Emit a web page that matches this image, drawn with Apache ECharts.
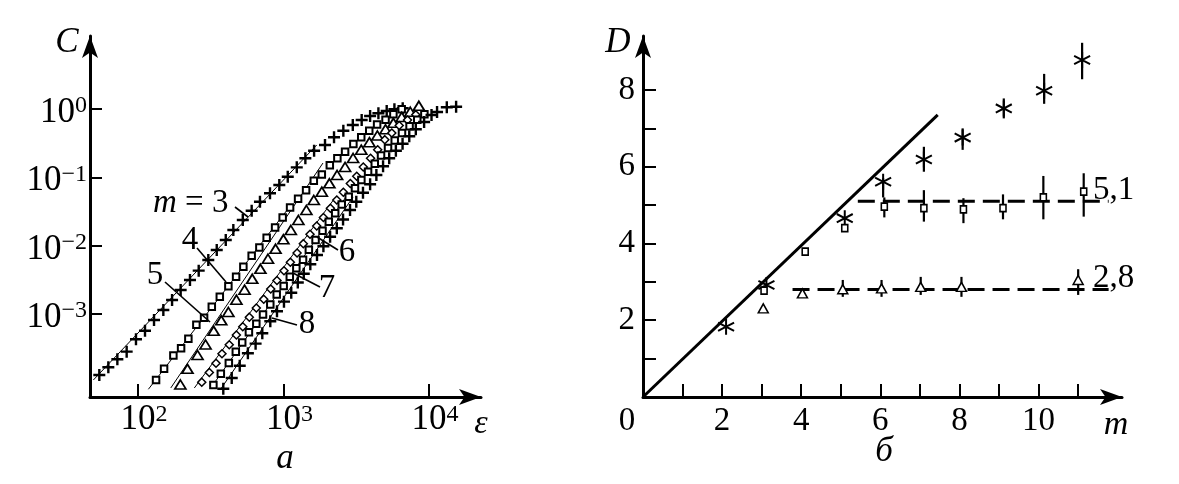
<!DOCTYPE html>
<html><head><meta charset="utf-8">
<script src="https://cdn.jsdelivr.net/npm/echarts@6/dist/echarts.min.js"></script>
<style>html,body{margin:0;padding:0;background:#fff}#c{width:1179px;height:484px}</style>
</head><body><div id="c"></div><script>
// ---------- panel a: log10(eps) and log10(C) ----------
const lgEps3 = [1.734,1.796,1.858,1.922,1.986,2.048,2.110,2.174,2.234,2.293,2.357,2.417,2.483,2.541,2.603,2.655,2.720,2.781,2.838,2.907,2.971,3.029,3.091,3.150,3.210,3.285,3.347,3.411,3.476,3.537,3.595,3.652,3.709,3.762,3.819];
const lgC3   = [-3.895,-3.782,-3.665,-3.553,-3.372,-3.246,-3.089,-2.943,-2.796,-2.650,-2.504,-2.367,-2.211,-2.064,-1.918,-1.772,-1.625,-1.489,-1.357,-1.234,-1.113,-0.991,-0.854,-0.722,-0.611,-0.527,-0.414,-0.318,-0.234,-0.161,-0.102,-0.063,-0.029,-0.004,0.010];
const lgEps4 = [2.124,2.179,2.243,2.296,2.346,2.401,2.454,2.507,2.562,2.621,2.674,2.724,2.781,2.834,2.884,2.942,2.994,3.045,3.100,3.155,3.208,3.263,3.318,3.370,3.423,3.480,3.534,3.589,3.643,3.701,3.755,3.812];
const lgC4   = [-3.968,-3.804,-3.609,-3.504,-3.365,-3.158,-3.057,-2.895,-2.748,-2.596,-2.455,-2.309,-2.149,-2.028,-1.886,-1.735,-1.589,-1.442,-1.315,-1.190,-1.051,-0.959,-0.824,-0.720,-0.625,-0.512,-0.414,-0.318,-0.227,-0.157,-0.076,-0.004];
const lgEps5 = [2.291,2.340,2.409,2.464,2.520,2.572,2.621,2.676,2.732,2.785,2.841,2.893,2.945,2.999,3.050,3.102,3.157,3.208,3.263,3.315,3.368,3.423,3.478,3.534,3.590,3.645,3.701,3.755,3.812,3.871,3.930];
const lgC5   = [-4.034,-3.804,-3.602,-3.448,-3.248,-3.094,-2.972,-2.792,-2.646,-2.486,-2.340,-2.193,-2.047,-1.908,-1.772,-1.625,-1.479,-1.332,-1.211,-1.088,-0.966,-0.849,-0.717,-0.596,-0.486,-0.388,-0.296,-0.202,-0.117,-0.040,0.047];
const lgEps6 = [2.438,2.490,2.536,2.577,2.627,2.676,2.720,2.765,2.813,2.864,2.912,2.955,3.003,3.047,3.093,3.136,3.182,3.228,3.274,3.322,3.366,3.411,3.459,3.503,3.548,3.598,3.647,3.696,3.744,3.795,3.852,3.909];
const lgC6   = [-4.000,-3.858,-3.723,-3.584,-3.451,-3.309,-3.187,-3.048,-2.914,-2.785,-2.635,-2.511,-2.369,-2.243,-2.108,-1.972,-1.833,-1.713,-1.589,-1.454,-1.332,-1.218,-1.091,-0.985,-0.849,-0.722,-0.596,-0.449,-0.351,-0.242,-0.161,-0.083];
const lgEps7 = [2.518,2.569,2.624,2.672,2.716,2.762,2.813,2.859,2.909,2.953,3.001,3.043,3.088,3.134,3.174,3.220,3.268,3.311,3.355,3.400,3.448,3.491,3.535,3.581,3.627,3.670,3.718,3.764,3.814,3.866,3.919,3.968];
const lgC7   = [-4.041,-3.876,-3.719,-3.553,-3.419,-3.268,-3.145,-3.009,-2.862,-2.716,-2.592,-2.455,-2.332,-2.206,-2.060,-1.918,-1.782,-1.650,-1.527,-1.398,-1.284,-1.161,-1.040,-0.918,-0.801,-0.681,-0.571,-0.461,-0.351,-0.253,-0.157,-0.076];
const lgEps8 = [2.586,2.644,2.699,2.755,2.808,2.854,2.909,2.955,3.003,3.053,3.098,3.139,3.184,3.230,3.274,3.320,3.366,3.409,3.457,3.500,3.546,3.595,3.638,3.684,3.726,3.772,3.818,3.864,3.909,3.966,4.017,4.055,4.122,4.186];
const lgC8   = [-4.097,-3.939,-3.760,-3.577,-3.436,-3.284,-3.108,-2.962,-2.821,-2.691,-2.540,-2.413,-2.274,-2.138,-2.009,-1.870,-1.747,-1.618,-1.479,-1.357,-1.227,-1.101,-0.966,-0.839,-0.722,-0.612,-0.508,-0.400,-0.296,-0.190,-0.088,-0.044,0.025,0.034];
// thin fitted straight lines (log10 eps, log10 C) end points
const fit3 = [[1.693,-3.968],[3.228,-0.527]];
const fit4 = [[2.071,-4.104],[3.050,-1.410]];
const fit5 = [[2.225,-4.085],[3.271,-0.791]];
const fit6 = [[2.387,-4.085],[3.350,-1.312]];
const fit7 = [[2.495,-4.100],[3.450,-1.226]];
const fit8 = [[2.564,-4.114],[3.478,-1.288]];
const ticksA_x = [2,3,4];
const ticksA_y = [-3,-2,-1,0];

// ---------- panel b: D vs m ----------
const mAst = [2.1,3.12,5.1,6.07,7.1,8.08,9.12,10.14,11.1];
const dAst = [1.83,2.92,4.66,5.61,6.19,6.76,7.52,7.98,8.78];
const astLo = [null,null,null,5.2,5.87,6.44,7.26,7.64,8.28];
const astHi = [null,null,null,5.7,6.52,7.00,7.78,8.42,9.23];
const mSq = [3.06,4.1,5.1,6.1,7.1,8.1,9.1,10.12,11.14];
const dSq = [2.77,3.79,4.40,4.96,4.92,4.89,4.92,5.20,5.35];
const sqLo = [null,null,null,4.68,4.57,4.53,4.63,4.63,4.70];
const sqHi = [null,null,null,5.20,5.39,5.18,5.28,5.76,5.83];
const mTri = [3.04,4.03,5.05,6.03,7.02,8.05,11.0];
const dTri = [2.31,2.70,2.81,2.83,2.87,2.87,3.05];
const triLo = [null,null,2.61,2.61,2.66,2.61,2.66];
const triHi = [null,null,3.05,3.05,3.13,3.13,3.33];
const diagLine = [[0,0],[7.45,7.35]];
const level51 = [[5.43,5.1],[11.77,5.1]];
const level28 = [[3.78,2.8],[11.77,2.8]];
const ticksB_x = [1,2,3,4,5,6,7,8,9,10,11];
const labelsB_x = [0,2,4,6,8,10];
const ticksB_y = [1,2,3,4,5,6,7,8];
const labelsB_y = [2,4,6,8];

const FONT = '"Liberation Serif","Times New Roman",serif';
const PLUS = 'path://M5,0L5,10M0,5L10,5';
const STAR = 'path://M5,0L5,10M0.6,2.4L9.4,7.6M0.6,7.6L9.4,2.4';

const pts = (xs, ys) => xs.map((x, i) => [x, ys[i]]);
const bars = (xs, lo, hi) => xs.map((x, i) => [x, lo[i], hi[i]]).filter(r => r[1] != null);

function fitS(d) {
  return {type:'line', xAxisIndex:0, yAxisIndex:0, data:d, symbol:'none', silent:true, z:1,
          lineStyle:{color:'#000', width:1}};
}
function scat(xi, yi, data, symbol, size, bw, fill) {
  return {type:'scatter', xAxisIndex:xi, yAxisIndex:yi, data, symbol, symbolSize:size, silent:true, z:3,
          itemStyle:{color:fill, borderColor:'#000', borderWidth:bw, opacity:1}};
}
function lineS(d, dashed, w) {
  return {type:'line', xAxisIndex:1, yAxisIndex:1, data:d, symbol:'none', silent:true, z:1,
          lineStyle:{color:'#000', width:w, type: dashed ? [17,8] : 'solid', cap:'butt'}};
}
function barS(d) {
  return {type:'custom', xAxisIndex:1, yAxisIndex:1, data:d, silent:true, z:2,
    renderItem: function (p, api) {
      const a = api.coord([api.value(0), api.value(1)]);
      const b = api.coord([api.value(0), api.value(2)]);
      return {type:'line', shape:{x1:a[0], y1:a[1], x2:b[0], y2:b[1]}, style:{stroke:'#000', lineWidth:2.2}};
    }};
}

const axLine = {show:true, onZero:false, symbol:['none','arrow'], symbolSize:[12,22], lineStyle:{color:'#000', width:3}};
const tickSty = {lineStyle:{color:'#000', width:2}};
const supRich = {
  b:{fontFamily:FONT, fontSize:35, lineHeight:34, color:'#000', padding:[0,0,0,12]},
  s:{fontFamily:FONT, fontSize:24, lineHeight:8, verticalAlign:'top', color:'#000'}
};
const supRichY = {
  b:{fontFamily:FONT, fontSize:35, lineHeight:34, color:'#000', padding:[8,0,0,0]},
  s:{fontFamily:FONT, fontSize:24, lineHeight:20, verticalAlign:'top', color:'#000', padding:[2,0,0,0]}
};

function txt(x, y, t, size, italic, align) {
  return {type:'text', x:x, y:y, silent:true, z:10,
    style:{text:t, fontFamily:FONT, fontSize:size, fontStyle: italic ? 'italic' : 'normal', fill:'#000',
           align: align || 'center', verticalAlign:'middle', textAlign: align || 'center', textVerticalAlign:'middle'}};
}
function seg(x1, y1, x2, y2) {
  return {type:'line', silent:true, z:10, shape:{x1, y1, x2, y2}, style:{stroke:'#000', lineWidth:1.6}};
}

const chart = echarts.init(document.getElementById('c'), null, {renderer:'canvas'});
chart.setOption({
  animation:false,
  backgroundColor:'#fff',
  grid:[
    {left:90, top:36, width:391, height:361, containLabel:false, outerBoundsMode:'none'},
    {left:643, top:36, width:479, height:361, containLabel:false, outerBoundsMode:'none'}
  ],
  xAxis:[
    {type:'value', gridIndex:0, min:1.670, max:4.357, axisLine:axLine, splitLine:{show:false},
     axisTick:Object.assign({inside:true, length:13, customValues:ticksA_x}, tickSty),
     axisLabel:{customValues:ticksA_x, margin:6, formatter: v => '{b|10}{s|' + v + '}', rich:supRich}},
    {type:'value', gridIndex:1, min:0, max:12.108, axisLine:axLine, splitLine:{show:false},
     axisTick:Object.assign({inside:true, length:13, customValues:ticksB_x}, tickSty),
     axisLabel:{customValues:labelsB_x, margin:8,
                formatter: v => v === 0 ? '{z|0}' : '{n|' + v + '}',
                rich:{n:{fontFamily:FONT, fontSize:33, lineHeight:32, color:'#000'},
                      z:{fontFamily:FONT, fontSize:33, lineHeight:32, color:'#000', padding:[0,32,0,0]}}}}
  ],
  yAxis:[
    {type:'value', gridIndex:0, min:-4.217, max:1.069, axisLine:axLine, splitLine:{show:false},
     axisTick:Object.assign({inside:true, length:12, customValues:ticksA_y}, tickSty),
     axisLabel:{customValues:ticksA_y, margin:3,
                formatter: v => '{b|10}{s|' + (v < 0 ? '\u2212' + Math.abs(v) : String(v)) + '}',
                rich:supRichY}},
    {type:'value', gridIndex:1, min:0, max:9.407, axisLine:axLine, splitLine:{show:false},
     axisTick:Object.assign({inside:true, length:13, customValues:ticksB_y}, tickSty),
     axisLabel:{customValues:labelsB_y, margin:8, fontFamily:FONT, fontSize:33, color:'#000'}}
  ],
  series:[
    fitS(fit3), fitS(fit4), fitS(fit5), fitS(fit6), fitS(fit7), fitS(fit8),
    scat(0,0, pts(lgEps3, lgC3), PLUS, 12, 2.4, 'none'),
    scat(0,0, pts(lgEps4, lgC4), 'rect', 6.5, 2, '#fff'),
    scat(0,0, pts(lgEps5, lgC5), 'triangle', [11,9], 1.7, '#fff'),
    scat(0,0, pts(lgEps6, lgC6), 'diamond', [8,8], 1.5, '#fff'),
    scat(0,0, pts(lgEps7, lgC7), 'rect', 6.5, 2, '#fff'),
    scat(0,0, pts(lgEps8, lgC8), PLUS, 12, 2.4, 'none'),
    lineS(diagLine, false, 3), lineS(level51, true, 3), lineS(level28, true, 3),
    barS(bars(mAst, astLo, astHi)), barS(bars(mSq, sqLo, sqHi)), barS(bars(mTri, triLo, triHi)),
    scat(1,1, pts(mAst, dAst), STAR, 16, 2, 'none'),
    scat(1,1, pts(mSq, dSq), 'rect', [6,7], 1.7, '#fff'),
    scat(1,1, pts(mTri, dTri), 'triangle', [10,9], 1.5, '#fff')
  ],
  graphic:[
    txt(67, 43, 'C', 35, true),
    txt(618, 43, 'D', 35, true),
    txt(481, 424, '\u03b5', 34, true),
    txt(1116, 425, 'm', 34, true),
    txt(285, 459, 'a', 35, true),
    txt(884, 452, '\u0431', 35, true),
    {type:'text', x:153, y:203, silent:true, z:10,
     style:{text:'{i|m}{r| = 3}', align:'left', verticalAlign:'middle', textAlign:'left', textVerticalAlign:'middle',
            fontFamily:FONT, fontSize:33, fill:'#000',
            rich:{i:{fontFamily:FONT, fontSize:33, fontStyle:'italic', fill:'#000'},
                  r:{fontFamily:FONT, fontSize:33, fill:'#000'}}}},
    txt(190, 240, '4', 33, false),
    txt(155, 275, '5', 33, false),
    txt(347, 252, '6', 33, false),
    txt(327, 288, '7', 33, false),
    txt(307, 324, '8', 33, false),
    seg(235, 207, 248, 217),
    seg(197, 248, 226, 282),
    seg(165, 282, 210, 322),
    seg(338, 250, 317, 237),
    seg(320, 287, 293, 273),
    seg(297, 325, 272, 318),
    txt(1093, 190, '5,1', 33, false, 'left'),
    txt(1093, 278, '2,8', 33, false, 'left')
  ]
});
</script></body></html>
